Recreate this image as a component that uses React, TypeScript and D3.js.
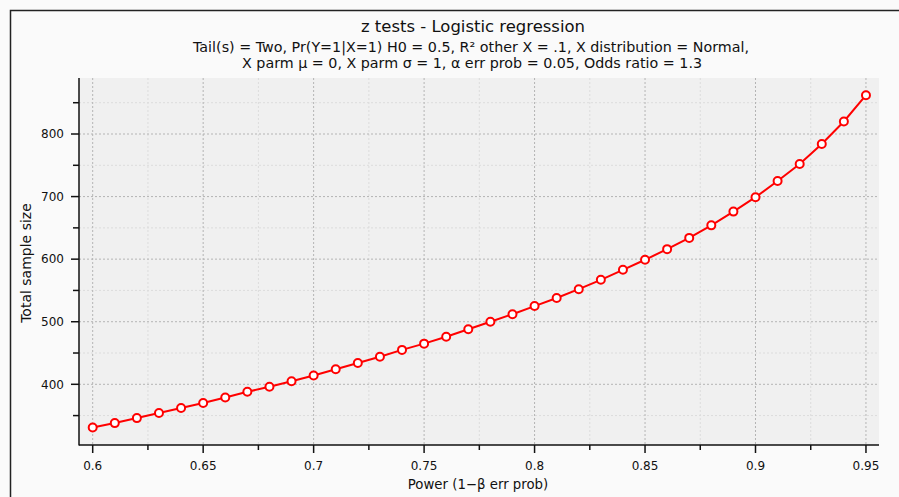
import React from "react";
import * as d3 from "d3";

const power = [0.6, 0.61, 0.62, 0.63, 0.64, 0.65, 0.66, 0.67, 0.68, 0.69, 0.7, 0.71, 0.72, 0.73, 0.74, 0.75, 0.76, 0.77, 0.78, 0.79, 0.8, 0.81, 0.82, 0.83, 0.84, 0.85, 0.86, 0.87, 0.88, 0.89, 0.9, 0.91, 0.92, 0.93, 0.94, 0.95];
const sampleSize = [331, 338, 346, 354, 362, 370, 379, 388, 396, 405, 414, 424, 434, 444, 455, 465, 476, 488, 500, 512, 525, 538, 552, 567, 583, 599, 616, 634, 654, 676, 699, 725, 752, 784, 820, 862];
const xMajorTicks = [0.6, 0.65, 0.7, 0.75, 0.8, 0.85, 0.9, 0.95];
const xMinorTicks = [0.625, 0.675, 0.725, 0.775, 0.825, 0.875, 0.925];
const yMajorTicks = [400, 500, 600, 700, 800];
const yMinorTicks = [350, 450, 550, 650, 750, 850];
const title = "z tests - Logistic regression";
const subtitle1 = "Tail(s) = Two, Pr(Y=1|X=1) H0 = 0.5, R² other X = .1, X distribution = Normal,";
const subtitle2 = "X parm μ = 0, X parm σ = 1, α err prob = 0.05, Odds ratio = 1.3";
const xTitle = "Power (1−β err prob)";
const yTitle = "Total sample size";

const W = 899, H = 497;
const L = 79, R = 879, T = 78, B = 445;
const font = "'DejaVu Sans', sans-serif";

export default function App() {
  const x = d3.scaleLinear().domain([0.5938, 0.9559]).range([L, R]);
  const y = d3.scaleLinear().domain([303, 889.5]).range([B, T]);
  const line = d3.line<number>().x((_, i) => x(power[i])).y((d) => y(d));
  const fmt = (v: number) => String(+v.toFixed(3));
  return (
    <svg width={W} height={H} style={{ position: "absolute", left: 0, top: 0, background: "#fafafa" }} fontFamily={font}>
      <rect x={0} y={0} width={W} height={H} fill="#fafafa" />
      <path d={`M10.5,${H} L10.5,10.5 L${W},10.5`} fill="none" stroke="#222" strokeWidth={1.5} />
      <text x={473} y={32} textAnchor="middle" fontSize={15} textLength={224} lengthAdjust="spacingAndGlyphs" fill="#111">{title}</text>
      <text x={471} y={52} textAnchor="middle" fontSize={13.5} textLength={556} lengthAdjust="spacingAndGlyphs" fill="#111">{subtitle1}</text>
      <text x={472} y={68} textAnchor="middle" fontSize={13.5} textLength={460} lengthAdjust="spacingAndGlyphs" fill="#111">{subtitle2}</text>
      <rect x={L} y={T} width={R - L} height={B - T} fill="#f0f0f0" />
      {xMinorTicks.map((t) => (
        <line key={"xm" + t} x1={x(t)} x2={x(t)} y1={T} y2={B} stroke="#dcdcdc" strokeDasharray="2,2" />
      ))}
      {yMinorTicks.map((t) => (
        <line key={"ym" + t} x1={L} x2={R} y1={y(t)} y2={y(t)} stroke="#dcdcdc" strokeDasharray="2,2" />
      ))}
      {xMajorTicks.map((t) => (
        <line key={"xg" + t} x1={x(t)} x2={x(t)} y1={T} y2={B} stroke="#b4b4b4" strokeDasharray="2,2" />
      ))}
      {yMajorTicks.map((t) => (
        <line key={"yg" + t} x1={L} x2={R} y1={y(t)} y2={y(t)} stroke="#b4b4b4" strokeDasharray="2,2" />
      ))}
      <line x1={L} x2={L} y1={T} y2={B + 0.5} stroke="#111" strokeWidth={1.5} />
      <line x1={L} x2={R} y1={B} y2={B} stroke="#111" strokeWidth={1.5} />
      {yMajorTicks.map((t) => (
        <g key={"yt" + t}>
          <line x1={L - 8} x2={L} y1={y(t)} y2={y(t)} stroke="#111" strokeWidth={1.5} />
          <text x={L - 15} y={y(t)} dy="0.35em" textAnchor="end" fontSize={12} fill="#111">{t}</text>
        </g>
      ))}
      {yMinorTicks.map((t) => (
        <line key={"ymt" + t} x1={L - 6} x2={L} y1={y(t)} y2={y(t)} stroke="#111" strokeWidth={1.5} />
      ))}
      {xMajorTicks.map((t) => (
        <g key={"xt" + t}>
          <line x1={x(t)} x2={x(t)} y1={B} y2={B + 8} stroke="#111" strokeWidth={1.5} />
          <text x={x(t)} y={470} textAnchor="middle" fontSize={12} fill="#111">{fmt(t)}</text>
        </g>
      ))}
      {xMinorTicks.map((t) => (
        <line key={"xmt" + t} x1={x(t)} x2={x(t)} y1={B} y2={B + 5} stroke="#111" strokeWidth={1.5} />
      ))}
      <text x={478} y={489} textAnchor="middle" fontSize={13.3} fill="#111">{xTitle}</text>
      <text transform={`translate(31,263) rotate(-90)`} textAnchor="middle" fontSize={14} fill="#111">{yTitle}</text>
      <path d={line(sampleSize) || ""} fill="none" stroke="#ff0000" strokeWidth={2} />
      {sampleSize.map((v, i) => (
        <circle key={i} cx={x(power[i])} cy={y(v)} r={4} fill="#fff" stroke="#ff0000" strokeWidth={2} />
      ))}
    </svg>
  );
}
